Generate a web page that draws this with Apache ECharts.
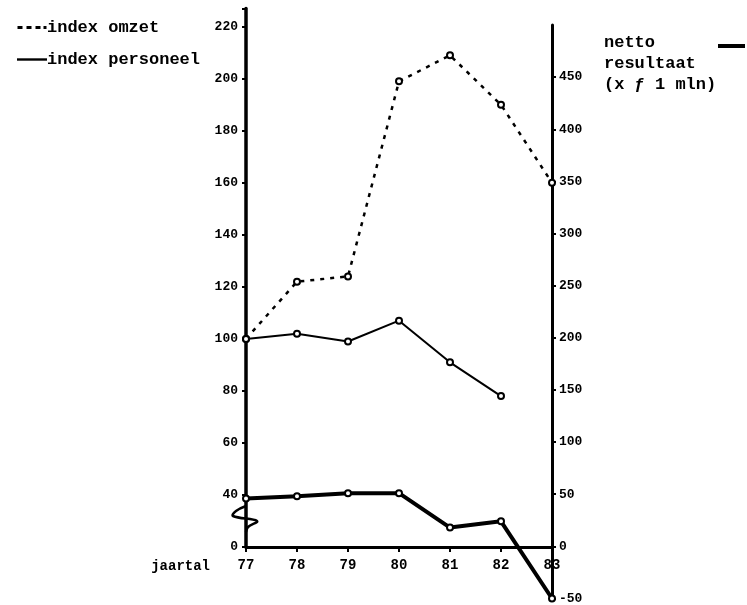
<!DOCTYPE html>
<html>
<head>
<meta charset="utf-8">
<script src="https://cdn.jsdelivr.net/npm/echarts@6/dist/echarts.min.js"></script>
<style>
html,body{margin:0;padding:0;background:#fff;}
#chart{width:747px;height:605px;}
</style>
</head>
<body>
<div id="chart"></div>
<script>
const years = ['77', '78', '79', '80', '81', '82', '83'];
const indexOmzet = [100, 122, 124, 199, 209, 190, 160];
const indexPersoneel = [100, 102, 99, 107, 91, 78, null];
const nettoResultaat = [46, 48, 51, 51, 18, 24, -50];
const leftTickLabels = { 20: '0', 40: '40', 60: '60', 80: '80', 100: '100', 120: '120', 140: '140', 160: '160', 180: '180', 200: '200', 220: '220' };

const FONT = 'Liberation Mono';
const chart = echarts.init(document.getElementById('chart'));

const axisLabelStyle = { color: '#000', fontFamily: FONT, fontWeight: 'bold', fontSize: 13 };

chart.setOption({
  backgroundColor: '#fff',
  animation: false,
  grid: [
    { left: 246, right: 195, top: 8.5, bottom: 58 },
    { left: 246, right: 195, top: 25, bottom: 6 }
  ],
  title: {
    text: 'netto\nresultaat\n(x ƒ 1 mln)',
    left: 604, top: 32, padding: 0,
    textStyle: { fontFamily: FONT, fontWeight: 'bold', fontSize: 17, lineHeight: 21, color: '#000' }
  },
  legend: [
    {
      orient: 'vertical', left: 12, top: 14, itemGap: 15,
      itemWidth: 30, itemHeight: 3,
      textStyle: { fontFamily: FONT, fontWeight: 'bold', fontSize: 17, color: '#000', padding: [0, 0, 0, -5] },
      data: [
        { name: 'index omzet', icon: 'path://M0,0h5v3h-5z M9,0h5v3h-5z M18,0h5v3h-5z M26,0h3v3h-3z' },
        { name: 'index personeel', icon: 'path://M0,0h30v2.4h-30z' }
      ]
    },
    {
      left: 713, top: 39, itemWidth: 27, itemHeight: 4,
      formatter: function () { return ''; },
      data: [{ name: 'netto resultaat', icon: 'rect' }]
    }
  ],
  xAxis: [
    {
      type: 'category', gridIndex: 0, data: years, boundaryGap: false,
      name: 'jaartal', nameLocation: 'start', nameGap: 36,
      nameTextStyle: { fontFamily: FONT, fontWeight: 'bold', fontSize: 14, color: '#000', verticalAlign: 'top', padding: [12, 0, 0, 0] },
      axisLine: { lineStyle: { color: '#000', width: 3 } },
      axisTick: { show: true, length: 5, lineStyle: { color: '#000', width: 2 } },
      axisLabel: Object.assign({ margin: 11 }, axisLabelStyle, { fontSize: 14 }),
      splitLine: { show: false }
    },
    {
      type: 'category', gridIndex: 1, data: years, boundaryGap: false, show: false
    }
  ],
  yAxis: [
    {
      type: 'value', gridIndex: 0, min: 20, max: 227, interval: 20,
      axisLine: { show: true, lineStyle: { color: '#000', width: 3.5 } },
      axisTick: { show: true, length: 4, lineStyle: { color: '#000', width: 2 } },
      axisLabel: Object.assign({
        margin: 8,
        formatter: function (v) { return leftTickLabels[v] !== undefined ? leftTickLabels[v] : ''; }
      }, axisLabelStyle),
      splitLine: { show: false }
    },
    {
      type: 'value', gridIndex: 1, position: 'right', min: -50, max: 500, interval: 50,
      axisLine: { show: true, lineStyle: { color: '#000', width: 3 } },
      axisTick: { show: true, length: 4, inside: false, lineStyle: { color: '#000', width: 2 } },
      axisLabel: Object.assign({ margin: 7, showMaxLabel: false }, axisLabelStyle),
      splitLine: { show: false }
    }
  ],
  graphic: [
    {
      type: 'polyline', z: 10,
      shape: { points: [[246, 506], [236, 511], [233, 516], [257, 521], [248, 527], [246, 532]], smooth: 0.4 },
      style: { stroke: '#000', lineWidth: 2.5, fill: null }
    }
  ],
  series: [
    {
      name: 'index omzet', type: 'line', xAxisIndex: 0, yAxisIndex: 0,
      data: indexOmzet,
      symbol: 'emptyCircle', symbolSize: 6,
      lineStyle: { color: '#000', width: 2.5, type: [4, 6] },
      itemStyle: { color: '#000', borderWidth: 1.5 },
      clip: false
    },
    {
      name: 'index personeel', type: 'line', xAxisIndex: 0, yAxisIndex: 0,
      data: indexPersoneel,
      symbol: 'emptyCircle', symbolSize: 6,
      lineStyle: { color: '#000', width: 2 },
      itemStyle: { color: '#000', borderWidth: 1.5 },
      clip: false
    },
    {
      name: 'netto resultaat', type: 'line', xAxisIndex: 1, yAxisIndex: 1,
      data: nettoResultaat,
      symbol: 'emptyCircle', symbolSize: 6,
      lineStyle: { color: '#000', width: 4 },
      itemStyle: { color: '#000', borderWidth: 2 },
      clip: false
    }
  ]
});
</script>
</body>
</html>
